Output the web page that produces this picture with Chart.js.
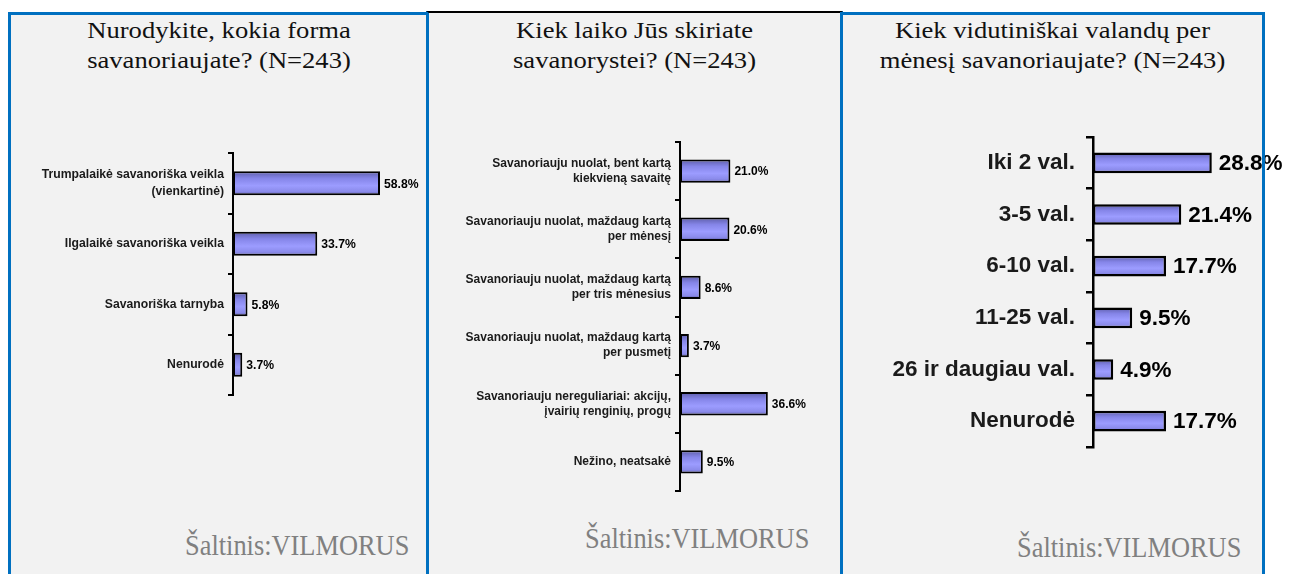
<!DOCTYPE html>
<html>
<head>
<meta charset="utf-8">
<script src="https://cdn.jsdelivr.net/npm/chart.js"></script>
<style>
  body { margin: 0; width: 1294px; height: 574px; background: #fff; position: relative; overflow: hidden; }
  .bg { position: absolute; left: 11px; top: 13px; width: 1251px; height: 570px; background: #f2f2f2; }
  .frame { position: absolute; top: 12px; box-sizing: border-box; height: 600px; border: 3px solid #0070c0; border-bottom: none; z-index: 3; }
  .title { position: absolute; top: 15px; text-align: center; white-space: nowrap; font-family: "Liberation Serif", "Times New Roman", serif; font-size: 24px; line-height: 30px; color: #111; transform: scaleX(1.107); z-index: 2; }
  .source { position: absolute; white-space: nowrap; font-family: "Liberation Serif", "Times New Roman", serif; font-size: 29px; line-height: 29px; color: #808080; transform-origin: left top; transform: scaleX(0.91); z-index: 2; }
  .box { position: absolute; z-index: 1; }
</style>
</head>
<body>
<div class="bg"></div>

<div class="title" style="left:11px; width:416px;">Nurodykite, kokia forma<br>savanoriaujate? (N=243)</div>
<div class="title" style="left:429px; width:411px;">Kiek laiko Jūs skiriate<br>savanorystei? (N=243)</div>
<div class="title" style="left:843px; width:419px;">Kiek vidutiniškai valandų per<br>mėnesį savanoriaujate? (N=243)</div>

<div class="box" style="left:11px; top:151px; width:416px; height:246px;"><canvas id="formaChart"></canvas></div>
<div class="box" style="left:429px; top:140px; width:411px; height:353px;"><canvas id="laikasChart"></canvas></div>
<div class="box" style="left:843px; top:135px; width:451px; height:314px;"><canvas id="valandosChart"></canvas></div>

<div class="source" style="left:185px; top:531px;">Šaltinis:VILMORUS</div>
<div class="source" style="left:585px; top:524px;">Šaltinis:VILMORUS</div>
<div class="source" style="left:1017px; top:533px;">Šaltinis:VILMORUS</div>

<div class="frame" style="left:8px; width:421px;"></div>
<div class="frame" style="left:426px; width:417px; top:11px; border-top:2px solid #000;"></div>
<div class="frame" style="left:840px; width:425px;"></div>

<script>
// data
let FORMA_LABELS = [['Trumpalaikė savanoriška veikla', '(vienkartinė)'], 'Ilgalaikė savanoriška veikla', 'Savanoriška tarnyba', 'Nenurodė']
let FORMA_VALUES = [58.8, 33.7, 5.8, 3.7]

let LAIKAS_LABELS = [
    ['Savanoriauju nuolat, bent kartą', 'kiekvieną savaitę'],
    ['Savanoriauju nuolat, maždaug kartą', 'per mėnesį'],
    ['Savanoriauju nuolat, maždaug kartą', 'per tris mėnesius'],
    ['Savanoriauju nuolat, maždaug kartą', 'per pusmetį'],
    ['Savanoriauju nereguliariai: akcijų,', 'įvairių renginių, progų'],
    'Nežino, neatsakė'
]
let LAIKAS_VALUES = [21.0, 20.6, 8.6, 3.7, 36.6, 9.5]

let VALANDOS_LABELS = ['Iki 2 val.', '3-5 val.', '6-10 val.', '11-25 val.', '26 ir daugiau val.', 'Nenurodė']
let VALANDOS_VALUES = [28.8, 21.4, 17.7, 9.5, 4.9, 17.7]

const BAR_PCT = 0.4

// shaded bar fill, vertical gradient per bar
function barGradient(context) {
    let chart = context.chart
    let y = chart.scales.y
    if (!y || !y.height || context.dataIndex === undefined) return '#9999ff'
    let center = y.getPixelForValue(context.dataIndex)
    let half = y.height / chart.data.labels.length * BAR_PCT / 2
    let g = chart.ctx.createLinearGradient(0, center - half, 0, center + half)
    g.addColorStop(0, '#5d5da8')
    g.addColorStop(0.3, '#8585e8')
    g.addColorStop(0.6, '#9c9cff')
    g.addColorStop(0.85, '#8a8aea')
    g.addColorStop(1, '#55559a')
    return g
}

// value text right of each bar
let valueLabels = {
    id: 'valueLabels',
    afterDatasetsDraw(chart, args, opts) {
        let ctx = chart.ctx
        let meta = chart.getDatasetMeta(0)
        ctx.save()
        ctx.font = opts.font
        ctx.fillStyle = '#000'
        ctx.textBaseline = 'middle'
        ctx.textAlign = 'left'
        meta.data.forEach((bar, i) => {
            let v = chart.data.datasets[0].data[i]
            ctx.fillText(v.toFixed(1) + '%', bar.x + opts.gap, bar.y + 1)
        })
        ctx.restore()
    }
}

function makeChart(id, labels, values, cfg) {
    return new Chart(document.getElementById(id), {
        type: 'bar',
        data: {
            labels: labels,
            datasets: [{
                data: values,
                backgroundColor: barGradient,
                borderColor: '#000',
                borderWidth: cfg.barBorder,
                borderSkipped: false,
                barPercentage: BAR_PCT,
                categoryPercentage: 1
            }]
        },
        plugins: [valueLabels],
        options: {
            indexAxis: 'y',
            animation: false,
            responsive: true,
            maintainAspectRatio: false,
            layout: { padding: { top: 2, bottom: 2, left: 0, right: cfg.padRight } },
            plugins: {
                legend: { display: false },
                tooltip: { enabled: false },
                valueLabels: { font: cfg.valueFont, gap: cfg.gap }
            },
            scales: {
                x: { display: false, min: 0, max: cfg.max },
                y: {
                    // fixed axis width, and no extra room for the edge labels
                    afterFit: (scale) => {
                        scale.width = cfg.axisWidth
                        scale.paddingTop = 0
                        scale.paddingBottom = 0
                    },
                    border: { color: '#000', width: cfg.axisLine },
                    grid: {
                        offset: true,
                        drawOnChartArea: false,
                        drawTicks: true,
                        tickLength: cfg.tickLength,
                        color: '#000',
                        lineWidth: cfg.axisLine
                    },
                    ticks: {
                        color: '#1a1a1a',
                        padding: cfg.tickPad,
                        font: { family: '"Liberation Sans", Arial, sans-serif', size: cfg.labelSize, weight: 'bold', lineHeight: cfg.lineHeight }
                    }
                }
            }
        }
    })
}

let formaChart = makeChart('formaChart', FORMA_LABELS, FORMA_VALUES, {
    max: 70, axisWidth: 222, padRight: 19, labelSize: 12.2, lineHeight: 1.45,
    tickLength: 5, tickPad: 4, axisLine: 2, barBorder: 2,
    valueFont: 'bold 12.2px "Liberation Sans", Arial, sans-serif', gap: 4
})

let laikasChart = makeChart('laikasChart', LAIKAS_LABELS, LAIKAS_VALUES, {
    max: 60, axisWidth: 251, padRight: 16, labelSize: 12, lineHeight: 1.25,
    tickLength: 5, tickPad: 4, axisLine: 2, barBorder: 2,
    valueFont: 'bold 12px "Liberation Sans", Arial, sans-serif', gap: 4
})

let valandosChart = makeChart('valandosChart', VALANDOS_LABELS, VALANDOS_VALUES, {
    max: 40, axisWidth: 250, padRight: 36, labelSize: 22.5, lineHeight: 1.2,
    tickLength: 7, tickPad: 11, axisLine: 2.5, barBorder: 2.5,
    valueFont: 'bold 22.5px "Liberation Sans", Arial, sans-serif', gap: 7
})
</script>
</body>
</html>
